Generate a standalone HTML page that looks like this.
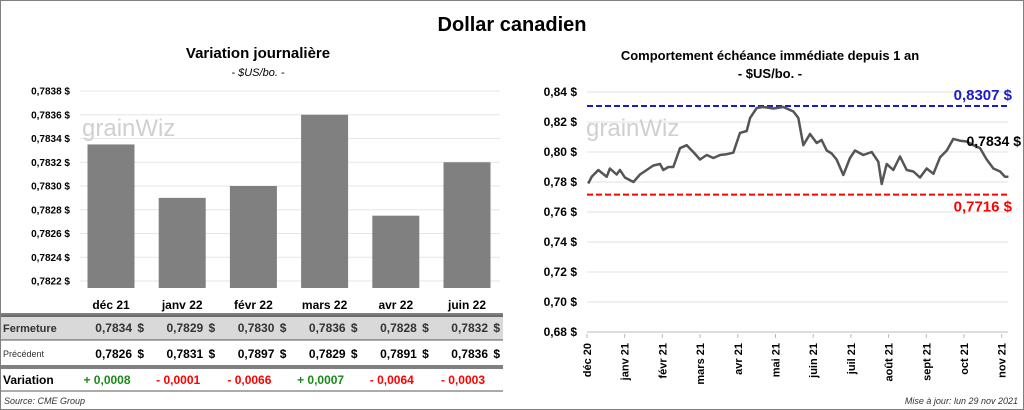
<!DOCTYPE html>
<html><head><meta charset="utf-8"><style>
body{margin:0;width:1024px;height:410px;background:#fff;font-family:"Liberation Sans",sans-serif;overflow:hidden}
svg{display:block}
</style></head><body>
<svg width="1024" height="410" xmlns="http://www.w3.org/2000/svg" font-family="Liberation Sans, sans-serif">
<rect x="0.5" y="0.5" width="1023" height="409" fill="#fff" stroke="#808080"/>
<text x="512" y="31" text-anchor="middle" font-size="20" font-weight="bold">Dollar canadien</text>
<text x="258" y="58" text-anchor="middle" font-size="15" font-weight="bold">Variation  journalière</text>
<text x="258" y="76" text-anchor="middle" font-size="11" font-style="italic">- $US/bo. -</text>
<text x="770" y="60" text-anchor="middle" font-size="13" font-weight="bold">Comportement échéance immédiate depuis 1 an</text>
<text x="770" y="78" text-anchor="middle" font-size="13" font-weight="bold">- $US/bo. -</text>
<g id="left"></g>
<g id="table"></g>
<g id="right"></g>
<text x="4" y="404" font-size="9" font-style="italic" fill="#333">Source: CME Group</text>
<text x="1018" y="404" text-anchor="end" font-size="9" font-style="italic" fill="#333">Mise à jour: lun 29 nov 2021</text>
</svg>
<script>
const NS="http://www.w3.org/2000/svg";
function mk(p,t,a,txt){const e=document.createElementNS(NS,t);for(const k in a)e.setAttribute(k,a[k]);if(txt!==undefined)e.textContent=txt;p.appendChild(e);return e;}
// left bar chart data
const months=["déc 21","janv 22","févr 22","mars 22","avr 22","juin 22"];
const closeVals=[0.78335,0.7829,0.7830,0.7836,0.78275,0.7832];
const closeLabels=["0,7834","0,7829","0,7830","0,7836","0,7828","0,7832"];
const prevLabels=["0,7826","0,7831","0,7897","0,7829","0,7891","0,7836"];
const varLabels=["+ 0,0008","- 0,0001","- 0,0066","+ 0,0007","- 0,0064","- 0,0003"];
const leftTicks=[0.7822,0.7824,0.7826,0.7828,0.7830,0.7832,0.7834,0.7836,0.7838];
// right line chart data
const rightTicks=[0.68,0.70,0.72,0.74,0.76,0.78,0.80,0.82,0.84];
const xLabels=["déc 20","janv 21","févr 21","mars 21","avr 21","mai 21","juin 21","juil 21","août 21","sept 21","oct 21","nov 21"];
const seriesDays=[1,3.8,9.1,15.9,18.5,23.9,26.6,30.6,37.4,42.7,48.1,53.5,58.9,61.5,65.6,69.6,75,80.4,85.7,91.1,96.5,101.9,107.3,112.6,118,123.4,128.8,131.5,136.8,142.2,150.3,158.3,166.4,170.4,174.4,179.8,185.2,189.2,193.3,197.3,201.3,206.7,212.1,216.1,222.8,229.6,234.9,237.6,241.7,247,252.4,257.8,263.2,268.5,273.9,279.3,284.7,290.1,295.4,300.8,306.2,311.6,317,322.3,327.7,333.1,337.1,339.8];
const seriesVals=[0.779,0.7835,0.788,0.7835,0.789,0.785,0.788,0.783,0.780,0.785,0.788,0.791,0.792,0.788,0.790,0.790,0.8025,0.8045,0.800,0.795,0.798,0.796,0.798,0.7985,0.7995,0.8127,0.814,0.8227,0.8293,0.830,0.829,0.830,0.827,0.8227,0.8045,0.812,0.806,0.808,0.801,0.799,0.795,0.7847,0.796,0.801,0.798,0.800,0.7935,0.7787,0.792,0.788,0.797,0.788,0.787,0.783,0.789,0.7855,0.7965,0.801,0.8087,0.8075,0.807,0.8045,0.8025,0.795,0.789,0.787,0.7835,0.7835];
const hiVal=0.8307, loVal=0.7716, lastVal=0.7834;

const L=document.getElementById('left');
const ly=v=>91+(0.7838-v)/0.0016*190;
const lx=i=>111+i*71.2;
leftTicks.forEach(t=>{
  const g=mk(L,'line',{x1:80,x2:500,y1:ly(t),y2:ly(t),stroke:'#e6e6e6'});
  
  
  const tx=mk(L,'text',{x:70,y:ly(t)+3.5,'text-anchor':'end','font-size':10,'font-weight':'bold'},t.toFixed(4).replace('.',',')+' $');
  
  
});
closeVals.forEach((v,i)=>{
  const r=mk(L,'rect',{x:lx(i)-23.5,y:ly(v),width:47,height:288-ly(v),fill:'#808080'});
  
  
});
mk(L,'text',{x:82,y:136,'font-size':24,fill:'#d0d0d0'},'grainWiz');

const T=document.getElementById('table');
mk(T,'rect',{x:1,y:315,width:502,height:25,fill:'#d9d9d9'});
[[314,'#000'],[316,'#000'],[340,'#555'],[366,'#000'],[368,'#000'],[391,'#555']].forEach(a=>mk(T,'line',{x1:1,x2:503,y1:a[0],y2:a[0],stroke:a[1]}));
mk(T,'text',{x:3,y:332,'font-size':11,'font-weight':'bold',fill:'#333'},'Fermeture');
mk(T,'text',{x:3,y:357,'font-size':9,fill:'#333'},'Précédent');
mk(T,'text',{x:3,y:384,'font-size':12,'font-weight':'bold'},'Variation');
months.forEach((m,i)=>{
  const h=mk(T,'text',{x:lx(i),y:309,'text-anchor':'middle','font-size':12,'font-weight':'bold'},m);
  
  
  mk(T,'text',{x:lx(i)+21,y:332,'text-anchor':'end','font-size':12,'font-weight':'bold',fill:'#333'},closeLabels[i]);
  mk(T,'text',{x:lx(i)+33,y:332,'text-anchor':'end','font-size':12,'font-weight':'bold',fill:'#333'},'$');
  mk(T,'text',{x:lx(i)+21,y:358,'text-anchor':'end','font-size':12,'font-weight':'bold'},prevLabels[i]);
  mk(T,'text',{x:lx(i)+33,y:358,'text-anchor':'end','font-size':12,'font-weight':'bold'},'$');
  mk(T,'text',{x:lx(i)-4,y:384,'text-anchor':'middle','font-size':12,'font-weight':'bold',fill:varLabels[i][0]=='+'?'#1a8a1a':'#ff0000'},varLabels[i]);
});

const R=document.getElementById('right');
const ry=v=>92+(0.84-v)/0.01*15;
const rx=d=>587+d*(37.7/30.4);
rightTicks.forEach(t=>{
  const g=mk(R,'line',{x1:587,x2:1008,y1:ry(t),y2:ry(t),stroke:t==0.68?'#bbb':'#e0e0e0'});
  
  
  const tx=mk(R,'text',{x:577,y:ry(t)+4,'text-anchor':'end','font-size':12,'font-weight':'bold'},t.toFixed(2).replace('.',',')+' $');
  
  
});
xLabels.forEach((l,i)=>{
  const x=587+i*37.7;
  mk(R,'line',{x1:x,x2:x,y1:334,y2:338,stroke:'#bbb'});
  const tx=mk(R,'text',{transform:`translate(${x+4},343) rotate(-90)`,'text-anchor':'end','font-size':11,'font-weight':'bold'},l);
  
  
});
mk(R,'text',{x:586,y:136,'font-size':24,fill:'#d0d0d0'},'grainWiz');
const hi=mk(R,'line',{x1:587,x2:1008,y1:ry(hiVal),y2:ry(hiVal),stroke:'#1a1acc','stroke-width':2,'stroke-dasharray':'6,3'});


const lo=mk(R,'line',{x1:587,x2:1008,y1:ry(loVal),y2:ry(loVal),stroke:'#ff0000','stroke-width':2,'stroke-dasharray':'6,3'});


const pts=seriesVals.map((v,i)=>rx(seriesDays[i]).toFixed(1)+','+ry(v).toFixed(1)).join(' ');
const pl=mk(R,'polyline',{points:pts,fill:'none',stroke:'#555','stroke-width':2.5,'stroke-linejoin':'round'});


mk(R,'text',{x:1012,y:ry(hiVal)-6,'text-anchor':'end','font-size':15,'font-weight':'bold',fill:'#1a1acc'},hiVal.toFixed(4).replace('.',',')+' $');
mk(R,'text',{x:1012,y:ry(loVal)+17,'text-anchor':'end','font-size':15,'font-weight':'bold',fill:'#ff0000'},loVal.toFixed(4).replace('.',',')+' $');
mk(R,'text',{x:1021,y:146,'text-anchor':'end','font-size':14,'font-weight':'bold'},lastVal.toFixed(4).replace('.',',')+' $');
</script>
</body></html>
